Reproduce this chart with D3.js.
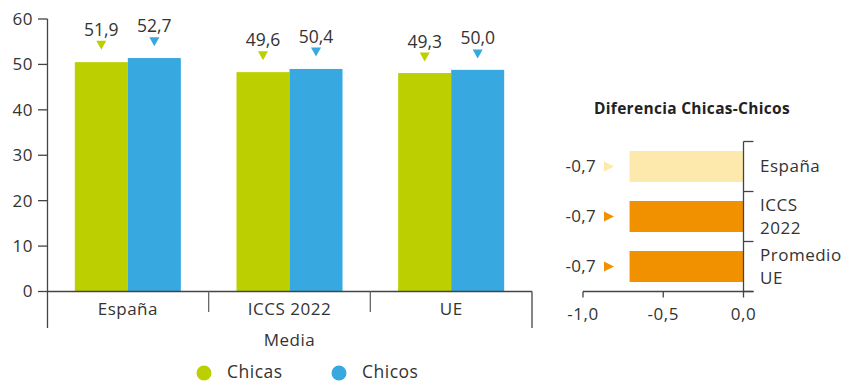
<!DOCTYPE html>
<html lang="es">
<head>
<meta charset="UTF-8">
<title>Media y diferencia Chicas-Chicos</title>
<script src="https://d3js.org/d3.v7.min.js"></script>
<style>
    body { margin: 0; background: #fff; }
    svg { display: block; font-family: "Open Sans", sans-serif; }
    .lbl { fill: #333; font-size: 17px; letter-spacing: 0.5px; }
    .val { fill: #333; font-size: 17.5px; text-anchor: middle; }
    .title { fill: #222; font-size: 15.5px; font-weight: bold; text-anchor: middle; letter-spacing: 0.3px; }
</style>
</head>
<body>
<svg id="chart" width="843" height="382"></svg>
<script>
// categories and series
const groups = ["España", "ICCS 2022", "UE"];
const series = ["Chicas", "Chicos"];
const colors = ["#bccf00", "#37a8e0"];
// bar heights as drawn, and the printed values above them
const chicasBars = [50.5, 48.3, 48.1];
const chicosBars = [51.4, 49.0, 48.8];
const chicasLabels = [51.9, 49.6, 49.3];
const chicosLabels = [52.7, 50.4, 50.0];
const yTicks = [0, 10, 20, 30, 40, 50, 60];

// right panel: difference
const diffCats = ["España", "ICCS 2022", "Promedio UE"];
const diffLines = [["España"], ["ICCS", "2022"], ["Promedio", "UE"]];
const diffValues = [-0.71, -0.71, -0.71];
const diffLabels = ["-0,7", "-0,7", "-0,7"];
const diffColors = ["#fde9ab", "#f29100", "#f29100"];
const diffTicks = [-1, -0.5, 0];

const svg = d3.select("#chart");
const axisColor = "#444";
const fmt = v => d3.format(".1f")(v).replace(".", ",").replace("−", "-");

// ---------- left chart ----------
const x0 = d3.scaleBand().domain(groups).range([47, 532]).padding(0);
const x1 = d3.scaleBand().domain(series).range([0, x0.bandwidth()]).paddingOuter(0.525).paddingInner(0);
const y = d3.scaleLinear().domain([0, 60]).range([291.5, 19]);

const bars = [chicasBars, chicosBars];
const labels = [chicasLabels, chicosLabels];

const left = svg.append("g");

series.forEach((s, si) => {
    left.selectAll(".bar-" + si)
        .data(groups)
        .enter().append("rect")
        .attr("x", g => x0(g) + x1(s))
        .attr("width", x1.bandwidth())
        .attr("y", (g, i) => y(bars[si][i]))
        .attr("height", (g, i) => y(0) - y(bars[si][i]))
        .attr("fill", colors[si]);

    // triangles and value labels
    groups.forEach((g, i) => {
        const cx = x0(g) + x1(s) + x1.bandwidth() / 2;
        const tip = y(labels[si][i]) - 6;
        left.append("path")
            .attr("d", `M${cx - 5},${tip - 9}L${cx + 5},${tip - 9}L${cx},${tip}Z`)
            .attr("fill", colors[si]);
        left.append("text")
            .attr("class", "val")
            .attr("x", cx)
            .attr("y", tip - 14)
            .text(fmt(labels[si][i]));
    });
});

// y axis
left.append("line")
    .attr("x1", 47.5).attr("x2", 47.5)
    .attr("y1", y(60)).attr("y2", 328)
    .attr("stroke", axisColor).attr("stroke-width", 1.3);
yTicks.forEach(t => {
    left.append("line")
        .attr("x1", 38).attr("x2", 47.5)
        .attr("y1", y(t)).attr("y2", y(t))
        .attr("stroke", axisColor).attr("stroke-width", 1.3);
    left.append("text")
        .attr("class", "lbl")
        .attr("x", 33).attr("y", y(t))
        .attr("dy", "0.35em")
        .attr("text-anchor", "end")
        .text(t);
});

// x axis
left.append("line")
    .attr("x1", 47.5).attr("x2", 532)
    .attr("y1", y(0)).attr("y2", y(0))
    .attr("stroke", axisColor).attr("stroke-width", 1.3);
left.append("line")
    .attr("x1", 532).attr("x2", 532)
    .attr("y1", y(0)).attr("y2", 328)
    .attr("stroke", axisColor).attr("stroke-width", 1.3);
groups.slice(1).forEach(g => {
    left.append("line")
        .attr("x1", x0(g)).attr("x2", x0(g))
        .attr("y1", y(0)).attr("y2", 312)
        .attr("stroke", "#666").attr("stroke-width", 1.3);
});
groups.forEach(g => {
    left.append("text")
        .attr("class", "lbl")
        .attr("x", x0(g) + x0.bandwidth() / 2)
        .attr("y", 315)
        .attr("text-anchor", "middle")
        .text(g);
});
left.append("text")
    .attr("class", "lbl")
    .attr("x", (47 + 532) / 2)
    .attr("y", 346)
    .attr("text-anchor", "middle")
    .text("Media");

// legend
const legendX = [204, 339];
series.forEach((s, i) => {
    left.append("circle")
        .attr("cx", legendX[i]).attr("cy", 373).attr("r", 7.5)
        .attr("fill", colors[i]);
    left.append("text")
        .attr("class", "lbl")
        .style("font-size", "17.5px")
        .attr("x", legendX[i] + 23).attr("y", 378)
        .text(s);
});

// ---------- right chart ----------
const right = svg.append("g");
const xd = d3.scaleLinear().domain([-1, 0]).range([583, 743.5]);
const yd = d3.scaleBand().domain(diffCats).range([141.5, 291.5]).paddingInner(0.38).paddingOuter(0.19);
const step = yd.step();

right.append("text")
    .attr("class", "title")
    .attr("x", 692).attr("y", 114)
    .text("Diferencia Chicas-Chicos");

right.selectAll(".dbar")
    .data(diffCats)
    .enter().append("rect")
    .attr("x", (c, i) => xd(diffValues[i]))
    .attr("width", (c, i) => xd(0) - xd(diffValues[i]))
    .attr("y", c => yd(c))
    .attr("height", yd.bandwidth())
    .attr("fill", (c, i) => diffColors[i]);

diffCats.forEach((c, i) => {
    const cy = yd(c) + yd.bandwidth() / 2;
    right.append("path")
        .attr("d", `M604,${cy - 5}L614,${cy}L604,${cy + 5}Z`)
        .attr("fill", diffColors[i]);
    right.append("text")
        .attr("class", "lbl")
        .style("letter-spacing", "0.3px")
        .attr("x", 596).attr("y", cy)
        .attr("dy", "0.35em")
        .attr("text-anchor", "end")
        .text(diffLabels[i]);
    const lines = diffLines[i];
    lines.forEach((ln, li) => {
        right.append("text")
            .attr("class", "lbl")
            .attr("x", 760)
            .attr("y", cy + (li - (lines.length - 1) / 2) * 23)
            .attr("dy", "0.35em")
            .text(ln);
    });
});

// vertical axis with band boundary ticks
right.append("line")
    .attr("x1", xd(0)).attr("x2", xd(0))
    .attr("y1", 141.5).attr("y2", 291.5)
    .attr("stroke", axisColor).attr("stroke-width", 1.3);
d3.range(diffCats.length + 1).forEach(k => {
    const yy = 141.5 + k * step;
    right.append("line")
        .attr("x1", xd(0)).attr("x2", xd(0) + 10)
        .attr("y1", yy).attr("y2", yy)
        .attr("stroke", axisColor).attr("stroke-width", 1.3);
});

// horizontal axis
right.append("line")
    .attr("x1", xd(-1)).attr("x2", xd(0) + 10)
    .attr("y1", 291.5).attr("y2", 291.5)
    .attr("stroke", axisColor).attr("stroke-width", 1.3);
diffTicks.forEach(t => {
    right.append("line")
        .attr("x1", xd(t)).attr("x2", xd(t))
        .attr("y1", 291.5).attr("y2", 297.5)
        .attr("stroke", axisColor).attr("stroke-width", 1.3);
    right.append("text")
        .attr("class", "lbl")
        .attr("x", xd(t)).attr("y", 320)
        .attr("text-anchor", "middle")
        .text(fmt(t));
});
</script>
</body>
</html>
